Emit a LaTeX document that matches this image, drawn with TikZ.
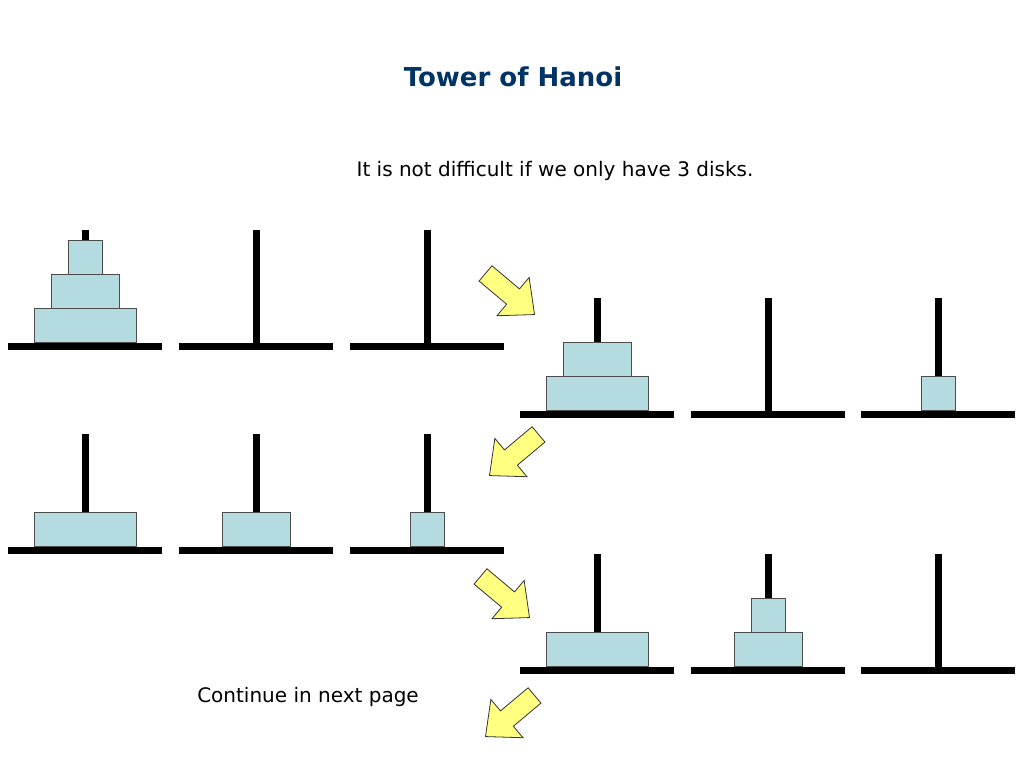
\documentclass[tikz,border=0pt]{standalone}
\usepackage{fontspec}
\setmainfont{DejaVu Sans}
\usetikzlibrary{positioning}
\definecolor{titleblue}{RGB}{0,51,102}
\definecolor{diskblue}{RGB}{180,220,224}
\definecolor{arrowyellow}{RGB}{255,255,128}
\tikzset{disk/.style={draw=black!70,fill=diskblue,line width=0.8pt},
  pole/.style={line width=7pt},
  hint arrow/.style={draw=black!80,fill=arrowyellow,line width=0.8pt,line join=miter},}
% one peg: x, base y
\newcommand{\peg}[2]{%
  \draw[pole] (#1,#2-116) -- (#1,#2);
  \draw[pole] (#1-77,#2) -- (#1+77,#2);}
% one disk: x, base y, level, half width
\newcommand{\disk}[4]{%
  \draw[disk] (#1-#4,#2-4-34*#3) rectangle (#1+#4,#2-38-34*#3);}
% one block arrow: centre, angle
\newcommand{\hintarrow}[3]{%
  \draw[hint arrow,shift={(#1,#2)},rotate=#3]
    (-32,-10) -- (4,-10) -- (4,-25) -- (32,0) -- (4,25) -- (4,10) -- (-32,10) -- cycle;}

\begin{document}
\begin{tikzpicture}[x=1pt,y=-1pt]
\useasboundingbox (0,0) rectangle (1024,768);
\node[text=titleblue,font=\bfseries\fontsize{26}{30}\selectfont] (title) at (513,77) {Tower of Hanoi};
\node[font=\fontsize{20}{24}\selectfont] (intro) at (555,171) {It is not difficult if we only have 3 disks.};
\node[font=\fontsize{20}{24}\selectfont] (cont) at (308,697) {Continue in next page};

% pegs
\foreach \px in {85,256,427} {\peg{\px}{346} \peg{\px}{550}}
\foreach \px in {597,768,938} {\peg{\px}{414} \peg{\px}{670}}

% disks
\disk{85}{346}{0}{51} \disk{85}{346}{1}{34} \disk{85}{346}{2}{17}
\disk{597}{414}{0}{51} \disk{597}{414}{1}{34} \disk{938}{414}{0}{17}
\disk{85}{550}{0}{51} \disk{256}{550}{0}{34} \disk{427}{550}{0}{17}
\disk{597}{670}{0}{51} \disk{768}{670}{0}{34} \disk{768}{670}{1}{17}

% arrows
\hintarrow{510}{294}{-40}
\hintarrow{514}{455}{-140}
\hintarrow{505}{597}{-40}
\hintarrow{510}{716}{-140}
\end{tikzpicture}
\end{document}
